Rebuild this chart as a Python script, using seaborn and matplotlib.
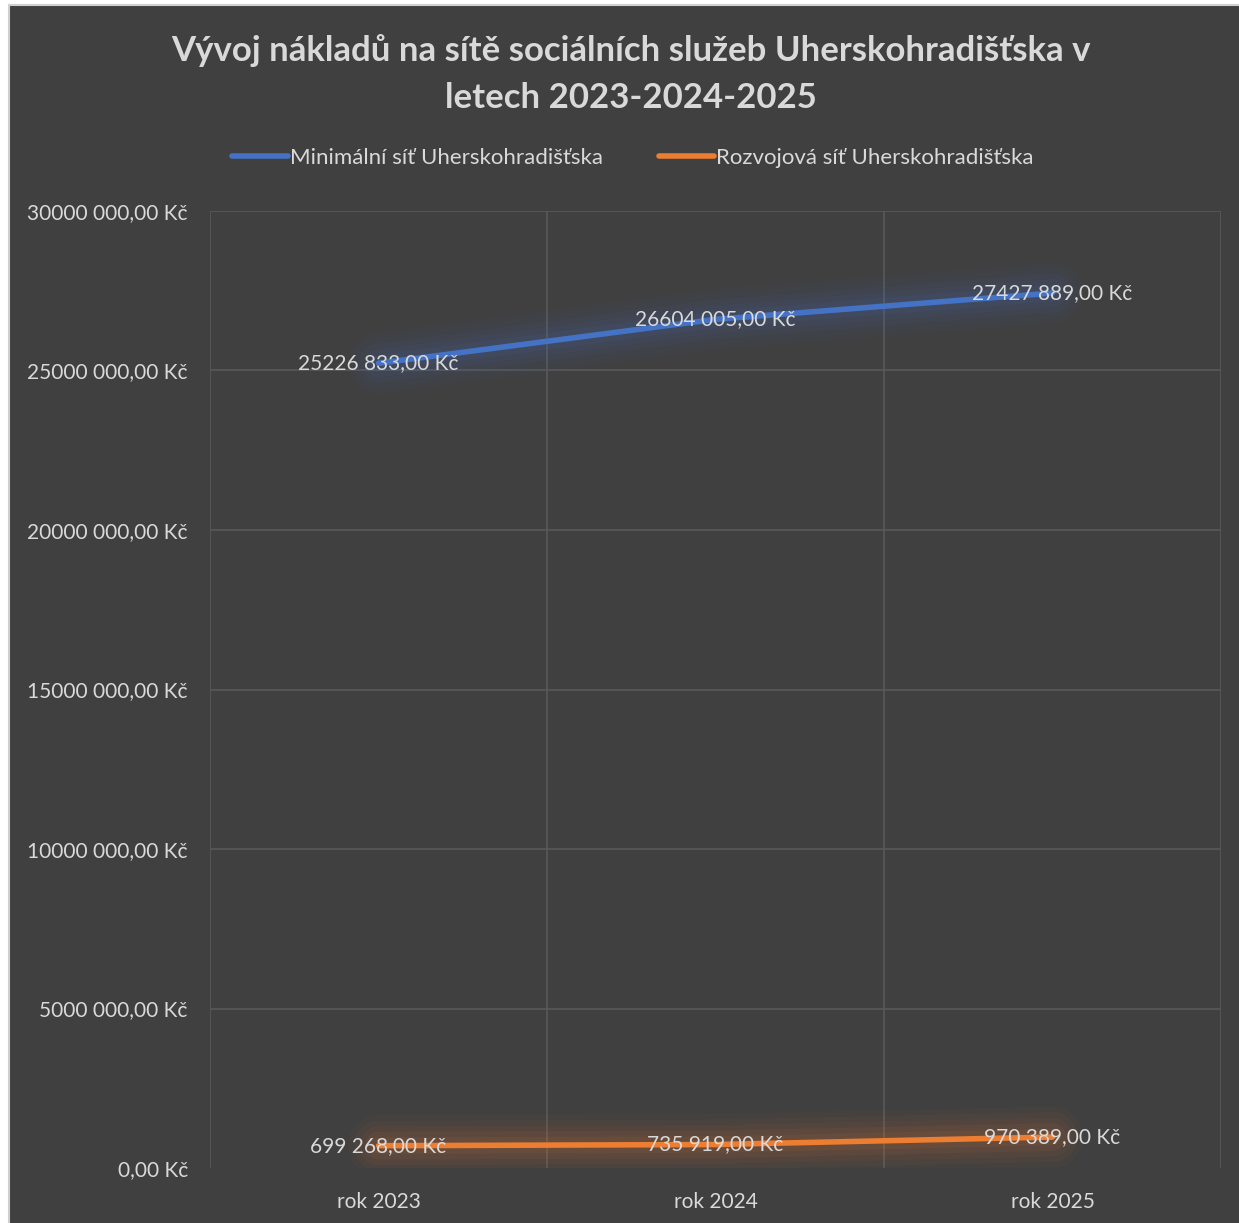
import matplotlib
matplotlib.use("Agg")
import matplotlib.pyplot as plt
import matplotlib.patches as mpatches
import matplotlib.lines as mlines
import numpy as np
import pandas as pd
import seaborn as sns

# --- data -----------------------------------------------------------------
years = ["rok 2023", "rok 2024", "rok 2025"]
series_names = ["Minimální síť Uherskohradišťska", "Rozvojová síť Uherskohradišťska"]
minimal_net = [25226833, 26604005, 27427889]
development_net = [699268, 735919, 970389]
y_ticks = [0, 5000000, 10000000, 15000000, 20000000, 25000000, 30000000]

title = "Vývoj nákladů na sítě sociálních služeb Uherskohradišťska v\nletech 2023-2024-2025"

BG = "#404040"
TXT = "#d9d9d9"
GRID = "#595959"
colors = ["#4472C4", "#ED7D31"]


def czk(v):
    v = int(round(v))
    if v < 1000:
        return f"{v},00 Kč"
    return f"{v // 1000} {v % 1000:03d},00 Kč"


df = pd.DataFrame({
    "rok": years * 2,
    "hodnota": minimal_net + development_net,
    "síť": [series_names[0]] * 3 + [series_names[1]] * 3,
})

sns.set_theme(style="dark")
plt.rcParams["font.family"] = ["Lato", "DejaVu Sans"]

W, H = 1239, 1223
fig = plt.figure(figsize=(W / 100, H / 100), dpi=100, facecolor="white")

# dark chart panel (runs off the right and bottom edges), border on top and left only
x0, y1 = 9 / W, 1 - 5 / H
panel = mpatches.Rectangle((x0, -0.05), 1.1, y1 + 0.05,
                           transform=fig.transFigure, facecolor=BG,
                           edgecolor="none", zorder=-10)
fig.patches.append(panel)
fig.lines.append(mlines.Line2D([x0, 1.05], [y1, y1], transform=fig.transFigure,
                               color="#d0d0d0", lw=1.5, zorder=-9))
fig.lines.append(mlines.Line2D([x0, x0], [-0.05, y1], transform=fig.transFigure,
                               color="#d0d0d0", lw=1.5, zorder=-9))

ax = fig.add_axes([210 / W, 1 - 1168 / H, (1221 - 210) / W, (1168 - 211) / H], zorder=5)
ax.set_facecolor(BG)

# soft glow beneath each line
for vals, c in [(minimal_net, colors[0]), (development_net, colors[1])]:
    for lw, a in [(44, 0.03), (36, 0.04), (28, 0.05), (20, 0.06), (12, 0.08)]:
        ax.plot(years, vals, color=c, lw=lw, alpha=a, solid_capstyle="round", zorder=2)

sns.lineplot(data=df, x="rok", y="hodnota", hue="síť", hue_order=series_names,
             palette=colors, linewidth=4, sort=False, ax=ax, zorder=3, legend=False)
for line in ax.lines[-2:]:
    line.set_solid_capstyle("round")

# value labels centred on the points
for vals in (minimal_net, development_net):
    for i, v in enumerate(vals):
        ax.text(i, v, czk(v), ha="center", va="center", color=TXT,
                fontsize=15, zorder=4)

ax.set_xlim(-0.5, 2.5)
ax.set_ylim(0, 30000000)
ax.set_yticks(y_ticks)
ax.set_yticklabels([czk(v) for v in y_ticks])
ax.set_xticks(range(len(years)))
ax.set_xticklabels(years)
ax.tick_params(axis="y", colors=TXT, labelsize=15, pad=16, length=0)
ax.tick_params(axis="x", colors=TXT, labelsize=15, pad=17, length=0)
ax.set_xlabel("")
ax.set_ylabel("")

# gridlines
for v in y_ticks[1:]:
    ax.axhline(v, color=GRID, lw=1.2, zorder=1)
for xv in (-0.5, 0.5, 1.5, 2.5):
    ax.axvline(xv, color=GRID, lw=1.2, zorder=1)
ax.grid(False)
for s in ax.spines.values():
    s.set_visible(False)

# legend
handles = [plt.Line2D([], [], color=c, lw=4, solid_capstyle="round") for c in colors]
fig.legend(handles, series_names, loc="center", bbox_to_anchor=(633 / W, 1 - 158 / H),
           ncol=2, frameon=False, fontsize=16, labelcolor=TXT, handlelength=2.5,
           handletextpad=0.1, columnspacing=2.5)

fig.text(631 / W, 1 - 74 / H, title, ha="center", va="center", color=TXT,
         fontsize=25, fontweight="bold", linespacing=1.6)

fig.savefig("out.png", dpi=100, facecolor=fig.get_facecolor())
